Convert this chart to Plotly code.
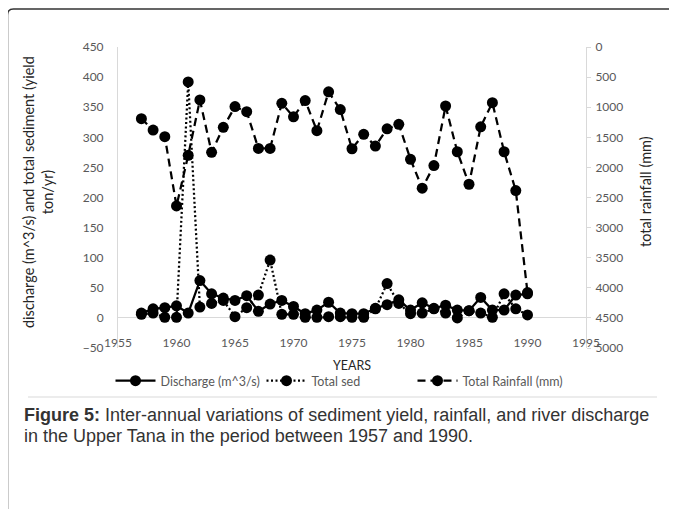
import plotly.graph_objects as go

years = list(range(1957, 1991))
discharge = [8, 15, 17, 20, 8, 62, 40, 33, 29, 37, 11, 23, 29, 19, 7, 13, 26, 8, 7, 7,
             16, 22, 30, 13, 25, 16, 21, 13, 12, 34, 13, 13, 38, 40]
total_sed = [6, 8, 1, 1, 392, 18, 24, 29, 2, 17, 38, 96, 6, 6, 1, 1, 2, 2, 1, 1,
             15, 57, 24, 7, 8, 15, 8, 0, 12, 8, 1, 40, 15, 5]
rainfall = [1190, 1380, 1490, 2640, 1800, 880, 1750, 1335, 990, 1075, 1685, 1685, 935, 1160,
            890, 1390, 745, 1040, 1690, 1450, 1645, 1360, 1285, 1865, 2345, 1970, 980, 1740,
            2280, 1325, 925, 1740, 2385, 4080]

left_ticks = list(range(-50, 451, 50))
right_ticks = list(range(0, 5001, 500))
year_ticks = list(range(1955, 1996, 5))

# page body has an 8px margin; work in window pixels and convert
OFF = 8
W, H = 677 - OFF, 509 - OFF
L, R, T, B = 118 - OFF, 586 - OFF, 47 - OFF, 348 - OFF
PW, PH = R - L, B - T

def fx(px):
    return (px - OFF - L) / PW

def fy(py):
    return (B - (py - OFF)) / PH

FONT = "Lato, Liberation Sans, sans-serif"
GREY = "#595959"
AX = "#d9d9d9"

fig = go.Figure()
fig.add_trace(go.Scatter(x=years, y=discharge, name="Discharge (m^3/s)", mode="lines+markers",
                         line=dict(color="black", width=2.25),
                         marker=dict(color="black", size=11)))
fig.add_trace(go.Scatter(x=years, y=total_sed, name="Total sed", mode="lines+markers",
                         line=dict(color="black", width=2.25, dash="2px,2.5px"),
                         marker=dict(color="black", size=11)))
fig.add_trace(go.Scatter(x=years, y=rainfall, name="Total Rainfall (mm)", mode="lines+markers",
                         yaxis="y2",
                         line=dict(color="black", width=2.25, dash="8px,5px"),
                         marker=dict(color="black", size=11)))

fig.update_layout(
    width=W, height=H,
    margin=dict(l=L, r=W - R, t=T, b=H - B, pad=0, autoexpand=False),
    paper_bgcolor="white", plot_bgcolor="white",
    font=dict(family=FONT, color=GREY, size=12),
    xaxis=dict(range=[1955, 1995], tickvals=year_ticks,
               anchor="free", position=fy(318), showgrid=False, zeroline=False,
               showline=False, ticks="", ticklabelstandoff=16,
               tickfont=dict(size=12, color=GREY, family=FONT)),
    yaxis=dict(range=[-50, 450], tickvals=left_ticks, showgrid=False,
               zeroline=True, zerolinecolor=AX, zerolinewidth=1,
               showline=True, linecolor=AX, linewidth=1, ticks="",
               ticklabelstandoff=11,
               tickfont=dict(size=12, color=GREY, family=FONT)),
    yaxis2=dict(range=[5000, 0], tickvals=right_ticks, overlaying="y", side="right",
                showgrid=False, zeroline=False, showline=True, linecolor=AX, linewidth=1,
                ticks="outside", ticklen=4, tickcolor=AX, ticklabelstandoff=2,
                tickfont=dict(size=12, color=GREY, family=FONT)),
    showlegend=True,
    legend=dict(orientation="h", x=fx(337), xanchor="center", y=fy(381), yanchor="middle",
                font=dict(size=12.5, color=GREY, family=FONT), itemwidth=40,
                entrywidth=96, entrywidthmode="pixels",
                bgcolor="rgba(0,0,0,0)"),
)

CAP = "Liberation Sans, Arial, sans-serif"
ann = [
    dict(text="discharge (m^3/s) and total sediment (yield<br>ton/yr)", x=fx(38), y=fy(192),
         textangle=-90, font=dict(size=14.5, color="#262626", family=FONT)),
    dict(text="total rainfall (mm)", x=fx(645), y=fy(192),
         textangle=-90, font=dict(size=14.5, color="#262626", family=FONT)),
    dict(text="YEARS", x=fx(352), y=fy(365), font=dict(size=12.5, color="#262626", family=FONT)),
    dict(text="<b>Figure 5:</b> Inter-annual variations of sediment yield, rainfall, and river discharge",
         x=fx(22), y=fy(415), xanchor="left", align="left",
         font=dict(size=18, color="#333333", family=CAP)),
    dict(text="in the Upper Tana in the period between 1957 and 1990.",
         x=fx(22), y=fy(436), xanchor="left", align="left",
         font=dict(size=18, color="#333333", family=CAP)),
]
for a in ann:
    a.setdefault("xanchor", "center")
    a.update(xref="paper", yref="paper", yanchor="middle", showarrow=False)
fig.update_layout(annotations=ann)

r = 6
x0, y0, x1, y1 = 7.5, 9, 720, 540
path = (f"M {fx(x0 + r)},{fy(y0)} L {fx(x1)},{fy(y0)} L {fx(x1)},{fy(y1)} "
        f"L {fx(x0)},{fy(y1)} L {fx(x0)},{fy(y0 + r)} Q {fx(x0)},{fy(y0)} {fx(x0 + r)},{fy(y0)} Z")
fig.add_shape(type="path", path=path, xref="paper", yref="paper",
              line=dict(color="#333333", width=1.5), layer="above")
fig.add_shape(type="line", xref="paper", yref="paper", x0=fx(28), x1=fx(657), y0=fy(397), y1=fy(397),
              line=dict(color="#d9d9d9", width=1))

fig.write_html("out.html")
